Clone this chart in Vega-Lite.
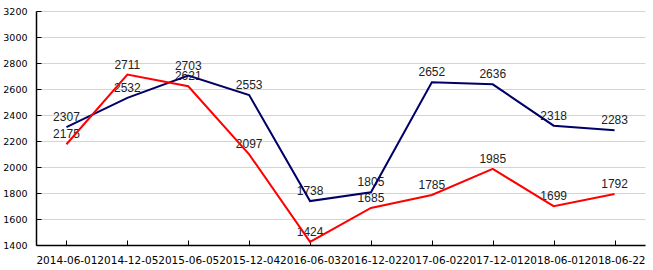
{
  "$schema": "https://vega.github.io/schema/vega-lite/v6.json",
  "width": 609,
  "height": 234,
  "autosize": "none",
  "padding": {"left": 36, "top": 11, "right": 8, "bottom": 25},
  "background": "white",
  "config": {"view": {"stroke": null}, "font": "Liberation Sans"},
  "data": {"values": [
    {"date": "2014-06-01", "series": "A", "value": 2307},
    {"date": "2014-12-05", "series": "A", "value": 2532},
    {"date": "2015-06-05", "series": "A", "value": 2703},
    {"date": "2015-12-04", "series": "A", "value": 2553},
    {"date": "2016-06-03", "series": "A", "value": 1738},
    {"date": "2016-12-02", "series": "A", "value": 1805},
    {"date": "2017-06-02", "series": "A", "value": 2652},
    {"date": "2017-12-01", "series": "A", "value": 2636},
    {"date": "2018-06-01", "series": "A", "value": 2318},
    {"date": "2018-06-22", "series": "A", "value": 2283},
    {"date": "2014-06-01", "series": "B", "value": 2175},
    {"date": "2014-12-05", "series": "B", "value": 2711},
    {"date": "2015-06-05", "series": "B", "value": 2621},
    {"date": "2015-12-04", "series": "B", "value": 2097},
    {"date": "2016-06-03", "series": "B", "value": 1424},
    {"date": "2016-12-02", "series": "B", "value": 1685},
    {"date": "2017-06-02", "series": "B", "value": 1785},
    {"date": "2017-12-01", "series": "B", "value": 1985},
    {"date": "2018-06-01", "series": "B", "value": 1699},
    {"date": "2018-06-22", "series": "B", "value": 1792}
  ]},
  "encoding": {
    "x": {"field": "date", "type": "ordinal", "sort": null,
      "scale": {"type": "point", "padding": 0.5},
      "axis": {"title": null, "labelAngle": 0, "labelOverlap": false, "labelFontSize": 10.5, "labelColor": "#000", "labelFont": "DejaVu Sans",
        "domainColor": "#000", "domainWidth": 1.5, "tickColor": "#000", "tickSize": -5, "labelPadding": 15, "grid": false}},
    "y": {"field": "value", "type": "quantitative",
      "scale": {"domain": [1400, 3200], "nice": false, "zero": false},
      "axis": {"title": null, "format": "d", "values": [1400, 1600, 1800, 2000, 2200, 2400, 2600, 2800, 3000, 3200], "labelFontSize": 9.5, "labelColor": "#000", "labelFont": "DejaVu Sans",
        "domainColor": "#000", "domainWidth": 1.5, "tickColor": "#000", "tickSize": -5, "labelPadding": 14, "gridColor": "#d4d4d4", "gridWidth": 1}}
  },
  "layer": [
    {"mark": {"type": "text", "baseline": "middle", "dy": -10, "fontSize": 12, "color": "#222", "font": "Liberation Sans"},
     "encoding": {"text": {"field": "value", "type": "quantitative", "format": "d"}}},
    {"mark": {"type": "line", "strokeWidth": 2},
     "encoding": {"color": {"field": "series", "type": "nominal", "legend": null,
       "scale": {"domain": ["B", "A"], "range": ["#ff0000", "#000066"]}},
       "order": {"field": "date"}}}
  ]
}
